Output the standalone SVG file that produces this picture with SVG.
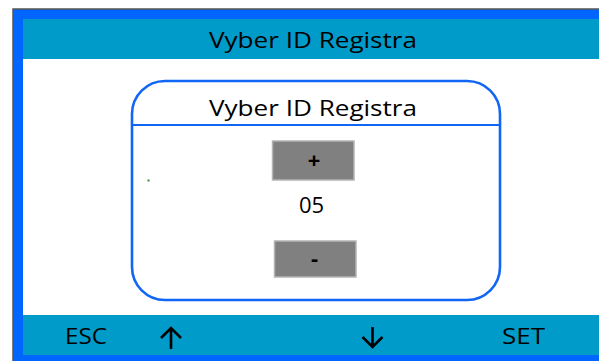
<svg xmlns="http://www.w3.org/2000/svg" width="599" height="361" viewBox="0 0 599 361">
<style>
.t{font-family:"Open Sans","Liberation Sans",sans-serif;font-size:22px;fill:#000}
.btn{fill:#808080;stroke:#b4b4b4;stroke-width:1.5}
.sym{font-weight:bold}
.arr{fill:none;stroke:#000;stroke-width:2.6;stroke-linecap:butt}
</style>
<rect width="599" height="361" fill="#fff"/>
<g id="frame">
<rect x="13" y="9" width="600" height="360" fill="#0066ff" stroke="#555" stroke-width="1.5"/>
<rect x="23" y="19" width="590" height="336" fill="#fff"/>
</g>
<g id="header">
<rect x="23" y="19" width="590" height="40" fill="#009bc8"/>
<text class="t" x="313" y="48" text-anchor="middle" textLength="208" lengthAdjust="spacingAndGlyphs">Vyber ID Registra</text>
</g>
<g id="dialog">
<rect x="132" y="81" width="368" height="219" rx="33" ry="33" fill="#fff" stroke="#1166f5" stroke-width="2.6"/>
<line x1="133" y1="125" x2="499" y2="125" stroke="#1166f5" stroke-width="2.2"/>
<text class="t" x="313" y="116" text-anchor="middle" textLength="208" lengthAdjust="spacingAndGlyphs">Vyber ID Registra</text>
</g>
<g id="btn-plus">
<rect class="btn" x="272.5" y="141" width="81.5" height="39"/>
<text class="t sym" x="314" y="168" text-anchor="middle" font-size="19">+</text>
</g>
<g id="value">
<text class="t" x="311.5" y="213" text-anchor="middle" font-size="21">05</text>
</g>
<g id="btn-minus">
<rect class="btn" x="274.5" y="241" width="81.5" height="36"/>
<text class="t sym" x="314.5" y="266" text-anchor="middle" font-size="19">-</text>
</g>
<rect x="147.5" y="179.5" width="2" height="2" fill="#3a8a3a"/>
<g id="footer">
<rect x="23" y="315" width="590" height="40" fill="#009bc8"/>
<text class="t" x="65" y="344" textLength="42" lengthAdjust="spacingAndGlyphs">ESC</text>
<text class="t" x="502" y="344" textLength="43" lengthAdjust="spacingAndGlyphs">SET</text>
</g>
<g id="connectors">
<path class="arr" d="M171 349V328M161 338L171 328L181 338"/>
<path class="arr" d="M372.5 327V347M362.5 337L372.5 347L382.5 337"/>
</g>
</svg>
